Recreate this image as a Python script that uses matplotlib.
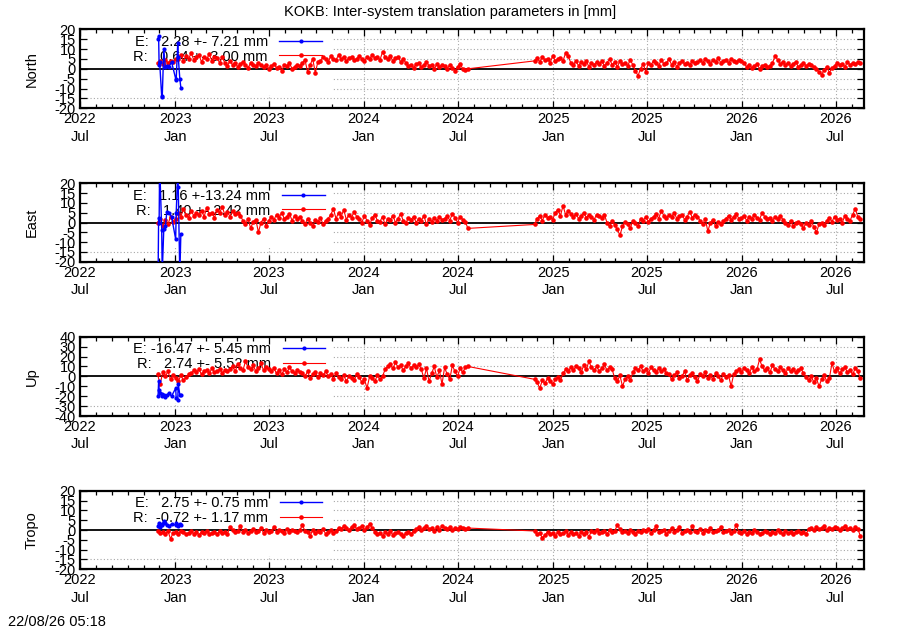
import matplotlib.pyplot as plt
import matplotlib.dates as mdates
import matplotlib.patches as mpatches
import numpy as np
import pandas as pd

plt.rcParams['font.family'] = ['Liberation Sans', 'DejaVu Sans']
plt.rcParams['font.size'] = 10.5

# ---- data ----
title = "KOKB: Inter-system translation parameters in [mm]"
stamp = "22/08/26 05:18"
panels = ["North", "East", "Up", "Tropo"]
y_limits = [20, 20, 40, 20]
y_steps = [5, 5, 10, 5]

# key statistics
e_mean = [2.28, 1.16, -16.47, 2.75]
e_sigma = [7.21, 13.24, 5.45, 0.75]
r_mean = [0.64, 1.40, 2.74, -0.72]
r_sigma = [3.00, 2.42, 5.52, 1.17]

# E series (blue), only a few weeks
e_dates = ["2022-11-29", "2022-11-30", "2022-12-01", "2022-12-02", "2022-12-06",
           "2022-12-07", "2022-12-10", "2022-12-13", "2022-12-16", "2022-12-20",
           "2022-12-25", "2023-01-02", "2023-01-03", "2023-01-06", "2023-01-07",
           "2023-01-10", "2023-01-12"]
e_north = [15, 16.5, 2, 3.5, -14, -14.5, 10, 1, 1.5, 1, 3.5, -5, -5.5, 13, 6, -5, -9.5]
e_east = [-28, 2.5, 0, 30, -3.7, -26, -3.4, -2, 5.5, 4.8, 3, -8.5, 5, 25, 17.9, -27, -6]
e_up = [-19.5, -5, -13.5, -17, -18, -20, -18.5, -21, -19, -17, -20, -12, -22, -24, -8,
        -18.5, -18.5]
e_tropo = [2.0, 3.5, 2.0, 1.5, 2.5, 3.0, 4.5, 3.5, 2.5, 2.0, 3.0, 2.5, 3.5, 2.5, 2.0,
           3.0, 2.5]

# R series (red), sampled every 5 days, two stretches with a gap
r_start_a = "2022-11-28"
r_start_b = "2024-11-26"
r_step = "5D"

north_a = [3, 4, 2.5, 4.5, 3, 4, 3.5, 5,
           5, 7, 4, 6.5, 5, 8, 4.5, 6, 7, 3.5, 6, 5, 7.5, 4, 6, 5.5, 3, 6,
           3, 1.5, 4, 2, 3, 1, 2.5, 3.5, 2, 0.5, 3, 2, 1.5, 3, 2,
           1, 2, 0, 1.5, 2.5, 0.5, 1, -1, 2, 1.5, 3, 0, 1, 2, 1.5,
           3, 4.5, -1.5, 2, 5, -2, 3.5,
           4, 6, 5, 3.5, 6.5, 5, 4.5, 7, 5, 6, 4, 5.5, 6, 4.5, 5, 6.5, 5, 4,
           6, 5, 7, 5.5, 6, 4.5, 8.5, 6, 5, 6.5, 4, 5.5, 6, 3.5, 5,
           3, 1.5, 2, 0.5, 2.5, 3, 1, 2, 3.5, 1.5, 2, 0, 2.5, 1, 2,
           1.5, 0, 2, 0.5, -1, 1, 2.5, 0, -0.5, 0]
north_b = [4, 5.5, 3.5, 6, 4.5, 5, 3, 6.5, 4, 5, 5.5, 4, 8,
           6.5, 3, 2, 4, 1.5, 3.5, 2.5, 4, 1, 3, 2, 3.5,
           2.5, 4, 1.5, 3, 5, 2, 3.5, 1, 4, 2.5, 3, 1.5, 4.5, 2, -1,
           -3.5, 0, 2.5, -1.5, 3,
           2, 4, 3, 1.5, 4.5, 2.5, 3, 5, 2, 3.5, 1, 3, 4, 2.5, 3, 2, 4, 3,
           3.5, 4.5, 3, 5, 4, 2.5, 4.5, 3.5, 5.5, 3, 4, 4.5, 3, 5, 4, 3.5, 4.5, 4,
           3, 1, 2, 0.5, 1.5, 2.5, 0, 1.5, 2, 1, 1.5,
           3, 6.5, 4.5, 2.5, 3.5,
           2, 3, 1.5, 2.5, 3.5, 1, 2, 3, 1.5, 2.5, 2, 1,
           0, -1.5, -3, -0.5, 1, -2, 0.5,
           1.5, 3, 2, 2.5, 1, 3.5, 2, 3, 2.5, 3.5, 3]

east_a = [0, 2, -2, 1.5, -1, 3, 0.5,
          2, 5, 3, 7, 4, 2.5, 6, 3.5, 5, 4,
          6, 3, 7.5, 4.5, 5, 2.5, 6.5, 5, 8, 4, 5.5, 3, 6, 4.5, 5, 3.5,
          1, -1, 2, -3, 0.5, 1.5, -5, 0, 2, -2, 1,
          3, 1.5, 4, 2.5, 5, 2, 3, 4.5, 1, 3.5, 2, 3,
          1, -1, 2, 0, -2, 1.5, 0.5, 2.5, -1, 1, 2,
          4, 7, 2, 5, 3, 6.5, 1.5, 4, 2.5, 5.5, 3,
          2, 0, 3.5, 1, -1.5, 2.5, 4, 1, 0.5, 3, -1, 2, 1.5, 3.5, 0, 2, 4.5,
          1, -0.5, 2.5, 1.5, 3, 0, 2, 1, 3.5, -1, 2, 0.5, 2.5, 1, 3, 1.5,
          2, 3.5, 1, 4.5, 2.5, 0, 3, 1.5, 0.5, -3]
east_b = [-1, 2, 3.5, 1, 4, 2.5, 3, 1.5,
          5, 6.5, 3.5, 8.5, 4, 6, 4.5,
          3, 4.5, 2, 3.5, 5, 2.5, 4, 3, 1.5, 4, 3.5, 2.5, 4,
          0, -2, 1, -1.5, -3.5, -6.5, -2, 0.5, -1, -3, 1, -0.5, -2,
          2, 1, 3, 0.5, 2,
          3, 4.5, 2, 6, 3.5, 2.5, 4, 3, 5, 2, 3.5, 4, 1.5, 3, 5.5, 2.5, 4, 3,
          1, -1, 2, -4.5, 0, 1.5, -2, 0.5, -1, 1,
          2, 3.5, 1.5, 3, 4.5, 2, 2.5, 3.5, 1, 3, 2, 4, 2.5, 1.5, 5, 3, 2, 2.5,
          1, 3, 2, 3.5, 1.5,
          0, -1.5, 1, -2, -0.5, 0.5, -1, -3, 0, -1.5, 1, -2.5, -5, -1, 0, -1.5,
          1, 2.5, 0.5, 3, 1.5, 2, 0, 3.5, 2, 1, 4, 7, 3, 2]

up_a = [2, -8, 4, 0, 5, -3, 1,
        -2, -5, 1, -4, -1, 2,
        3, 6, 4, 7, 2, 5, 6.5, 3, 8, 4, 5, 7, 3.5, 6, 5,
        7, 10, 5, 12, 8, 6, 15, 9, 7, 11, 5, 8, 13, 6, 9, 7,
        5, 8, 3, 6, 2, 7, 4, 9, 5, 3, 6, 4,
        3, 0, 5, -2, 2, 4, -1, 3, 1, 5, 0, 2, -3, 3,
        -1, -3, 1, -5, 0, -2, -4, 2, -1, -6, -3, -12, 0, -2, -5, 1, -3, 0,
        7, 10, 12, 8, 14, 9, 11, 6, 10, 13, 8, 11, 9, 12, 7,
        -2, 8, -5, 3, 10, -1, 6, -8, 9, 2, -3, 11, 5, 0, 8, 4, 9, 10]
up_b = [-3, -6, -12, -4, -7, -2, -5, -8, -3, -1, -4,
        3, 7, 5, 9, 6, 10, 8, 4, 11, 7, 15, 9, 6, 10, 5, 8, 12, 6, 9, 7,
        -2, -5, 1, -10, -3, 0, -4,
        4, 8, 6, 10, 5, 7, 3, 9, 6, 4, 8, 5, 7, 3,
        2, -3, 1, 4, -2, 0, 5, -4, 1, 3, -1, -5, 2, 0, 4, -2, 1, -3, 3, 0,
        -4, 2, -1, 1, -10,
        2, 5, 7, 4, 8, 6, 3, 9, 5, 7, 17, 10, 6, 8, 4, 11, 7, 5, 9, 6, 3, 8,
        5, 7, 4, 6, 8, 3,
        -1, -4, 0, -6, -2, -10, -3, 1, -5, -2,
        13, 5, 8, 3, 7, 9, 4, 6, 2, 8, 5, -2]

tropo_a = [-0.5, -1.5, -1, -2, -0.5, -4.5, -1.5, -1, -2, -0.5,
           -1, -2, -1.5, -0.5, -2, -1, -2.5, -1, -1.5, -0.5, -2, -1.5, -1, -2,
           -0.5, -1.5, -1, -2,
           1.5, 0, -1, -0.5, 2, -1, 0, -1.5, -0.5, 0.5, -1, -0.5, 1, -1.5, 0,
           -1, -0.5, 1.5, -1, 0, -0.5, -1.5, 0.5, -1, 0, -0.5, -1, 0,
           2.5, -0.5, -1, -3, 0, -1.5, -0.5, -1, 0.5, -2, -1, 0, -1.5, -0.5,
           1, 0.5, 2, 1, 0, 1.5, 2.5, 0.5, 1, 2, 0, 1.5, 3, 1,
           -1, -2, -1.5, -3, -1, -2, -0.5, -2.5, -1.5, -1, -2, -3, -1.5, -1,
           -2, -0.5,
           0.5, 1.5, 0, 1, 2, 0.5, 1, -0.5, 1.5, 0, 2, 1, 0.5, 1.5, 0, 1, 0.5,
           1.5, 1, 0.5, 1]
tropo_b = [-0.5, -2, -1.5, -4, -2.5, -1, -2, -1.5, -3, -1, -2, -1.5, -0.5, -2.5,
           -1, -2, -1.5, -3, -1, -2,
           -1, -3.5, -0.5, -1, 0, -1.5, -1, -0.5, -2, 0, -1, -0.5, 2.5, 0.5, -1,
           -0.5, -1.5, 0, -1, -2, -0.5, -1, 0,
           -0.5, 0.5, -1.5, 0, 2, -1, -0.5, 0, -2, -0.5, 1, -1, 0, 1.5, -1.5,
           -0.5, 0, -1, 2, -0.5, -1, 0.5, -1.5, 0, -0.5, 1, -1, -0.5, 0, 1.5,
           -1, -0.5, 0, -1.5, -0.5,
           2.5, -1, -1.5, -0.5, -2, -1, -1.5, 0, -1, -2, -1.5, -0.5, -1, -2, -1,
           -1.5, 0, -1, -2, -0.5, -1.5, -1, -2, -1, -0.5, -1.5, -1, -2,
           0.5, 1, 0, 1.5, 0.5, 1, 2, 0, 1, 0.5, 1.5, 1, 0, 1, 2, 0.5, 1, 0, 1.5,
           0.5, -3]

e_series = [e_north, e_east, e_up, e_tropo]
r_series = [(north_a, north_b), (east_a, east_b), (up_a, up_b), (tropo_a, tropo_b)]

x_start, x_end = "2022-07-01", "2026-08-25"
tick_dates = ["2022-07-01", "2023-01-01", "2023-07-01", "2024-01-01", "2024-07-01",
              "2025-01-01", "2025-07-01", "2026-01-01", "2026-07-01"]
tick_labels = ["2022\nJul", "2023\nJan", "2023\nJul", "2024\nJan", "2024\nJul",
               "2025\nJan", "2025\nJul", "2026\nJan", "2026\nJul"]

# ---- figure ----
W, H = 900, 630
fig = plt.figure(figsize=(W / 100, H / 100), dpi=100)

# panel boxes in pixels: (top, bottom)
boxes = [(29.3, 108.3), (183.3, 261.7), (336.7, 416.0), (490.7, 569.3)]
left_px, right_px = 80, 864

e_x = pd.to_datetime(e_dates)
ticks = pd.to_datetime(tick_dates)

for i, name in enumerate(panels):
    top, bot = boxes[i]
    ax = fig.add_axes([left_px / W, 1 - bot / H, (right_px - left_px) / W, (bot - top) / H])

    ra, rb = r_series[i]
    r_x = pd.date_range(r_start_a, periods=len(ra), freq=r_step).append(
        pd.date_range(r_start_b, periods=len(rb), freq=r_step))
    r_y = list(ra) + list(rb)

    lim = y_limits[i]
    yt = np.arange(-lim, lim + 1, y_steps[i])

    # dotted grid, drawn by hand so the key box can hide it
    for v in yt:
        if v not in (-lim, 0, lim):
            ax.axhline(v, color='#a8a8a8', lw=0.8, ls=(0, (1, 2)), zorder=0.5)
    for t in ticks[1:]:
        ax.axvline(t, color='#a8a8a8', lw=0.8, ls=(0, (1, 2)), zorder=0.5)
    ax.add_patch(mpatches.Rectangle((0, 0.17), 0.321, 0.83, transform=ax.transAxes,
                                    fc='white', ec='none', zorder=0.8))

    ax.axhline(0, color='black', lw=1.3, zorder=2.5)
    lr, = ax.plot(r_x, r_y, color='#ff0000', lw=0.8, marker='o', ms=3.3, mew=0,
                  zorder=3)
    le, = ax.plot(e_x, e_series[i], color='#0000ff', lw=1.0, marker='o', ms=3.0,
                  mew=0, zorder=4)

    lab_e = f"E: {e_mean[i]:6.2f} +-{e_sigma[i]:5.2f} mm"
    lab_r = f"R: {r_mean[i]:6.2f} +-{r_sigma[i]:5.2f} mm"
    leg = ax.legend([le, lr], [lab_e, lab_r], loc='upper left',
                    bbox_to_anchor=(0.068, 0.93), frameon=False, markerfirst=False,
                    handlelength=2.9, handletextpad=0.8, labelspacing=0.05,
                    borderpad=0, borderaxespad=0)
    leg.set_zorder(1)

    ax.set_xlim(pd.Timestamp(x_start), pd.Timestamp(x_end))
    ax.set_ylim(-lim, lim)
    ax.set_yticks(yt)
    ax.set_yticklabels([str(v) for v in yt])
    ax.set_xticks(ticks)
    ax.set_xticklabels(tick_labels)
    for lbl in ax.get_xticklabels():
        lbl.set_linespacing(1.3)
    ax.xaxis.set_minor_locator(mdates.MonthLocator())

    ax.tick_params(which='both', direction='in', top=True, right=True, width=0.9)
    ax.tick_params(which='major', length=5, pad=3)
    ax.tick_params(which='minor', length=3)
    for sp in ax.spines.values():
        sp.set_linewidth(1.6)

    fig.text(32 / W, 1 - (top + bot) / 2 / H, name, rotation=90, ha='center', va='center')

fig.text(0.5, 1 - 12 / H, title, ha='center', va='center')
fig.text(8 / W, 1 - 622 / H, stamp, ha='left', va='center')

fig.savefig("out.png", dpi=100)
